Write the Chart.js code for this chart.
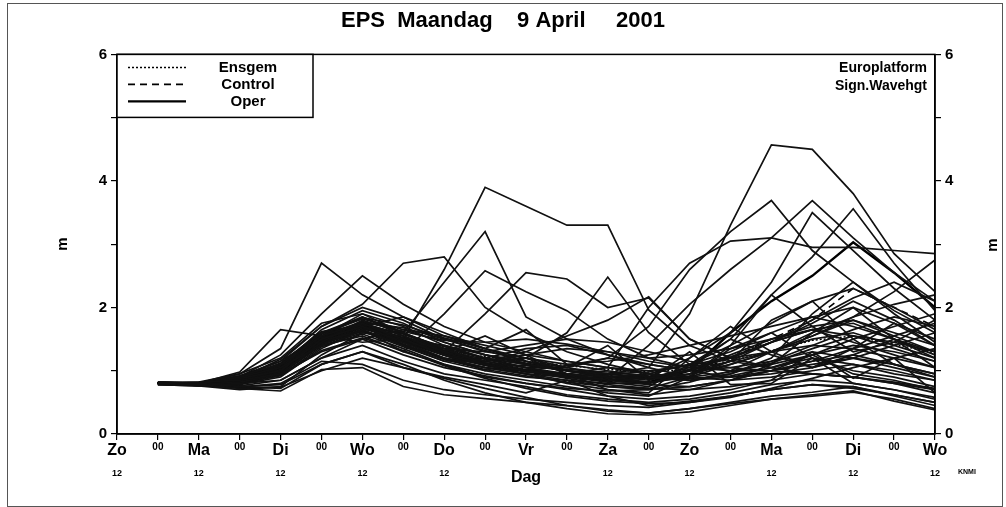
<!DOCTYPE html>
<html>
<head>
<meta charset="utf-8">
<title>EPS Maandag 9 April 2001</title>
<script src="https://cdn.jsdelivr.net/npm/chart.js@4.4.1/dist/chart.umd.min.js"></script>
<style>
  html, body { margin: 0; padding: 0; background: #fff; }
  #wrap { width: 1006px; height: 507px; }
</style>
</head>
<body>
<div id="wrap"><canvas id="myChart" width="1006" height="507"></canvas></div>
<script>
// time axis, every 12 hours from Zo 12 up to Wo 12 ten days later
var timeLabels = ['Zo 12', '00', 'Ma 12', '00', 'Di 12', '00', 'Wo 12', '00', 'Do 12', '00', 'Vr 12',
                  '00', 'Za 12', '00', 'Zo 12', '00', 'Ma 12', '00', 'Di 12', '00', 'Wo 12'];
var yTicks = [0, 2, 4, 6];

// ensemble members (significant wave height, m), first step has no value
var m01 = [null, .80, .78, .72, .68, 1.02, 1.05, .75, .62, .56, .50, .45, .38, .33, .40, .48, .55, .60, .66, .55, .40];
var m02 = [null, .82, .80, .75, .72, 1.10, 1.30, 1.05, .90, .78, .65, .85, .60, .45, .52, .60, .70, .78, .75, .62, .50];
var m03 = [null, .78, .76, .80, .85, 1.20, 1.40, 1.15, .95, .85, .75, .62, .55, .50, .55, .65, .78, .85, .80, .70, .58];
var m04 = [null, .80, .82, .85, .95, 1.30, 1.50, 1.25, 1.05, .92, .80, .70, .60, .55, .60, .70, .85, .95, .90, .80, .65];
var m05 = [null, .81, .79, .90, 1.05, 1.40, 1.55, 1.30, 1.10, .95, .85, .75, .65, .60, .90, 1.35, 1.60, 1.20, 1.00, .90, .75];
var m06 = [null, .79, .77, .78, .90, 1.35, 1.65, 1.40, 1.15, 1.00, 1.20, .95, .70, .62, .70, .85, 1.00, 1.25, .95, .85, .70];
var m07 = [null, .80, .80, .88, 1.00, 1.50, 1.70, 1.45, 1.20, 1.05, .95, .85, .75, .70, .75, .85, 1.10, 1.60, 2.00, 1.50, 1.05];
var m08 = [null, .82, .81, .92, 1.10, 1.55, 1.75, 1.50, 1.25, 1.10, 1.00, .90, .82, .75, 1.10, 1.50, 1.25, 1.05, 1.35, 1.75, 1.40];
var m09 = [null, .78, .76, .70, .75, 1.25, 1.60, 1.55, 1.30, 1.55, 1.25, .95, .85, .78, .75, .85, 1.00, 1.15, 1.25, 1.10, .95];
var m10 = [null, .80, .78, .82, .95, 1.45, 1.80, 1.60, 1.35, 1.10, .95, .80, .70, .65, 1.20, 1.70, 1.30, 1.05, 1.25, 1.50, 1.20];
var m11 = [null, .81, .80, .85, 1.05, 1.60, 1.85, 1.55, 1.25, 1.00, .90, .85, .80, .80, .95, 1.15, 1.80, 2.10, 1.50, 1.10, .90];
var m12 = [null, .79, .78, .80, .98, 1.55, 1.90, 1.70, 1.40, 1.20, 1.10, 1.00, .90, .82, .90, 1.40, 2.20, 1.70, 1.30, 1.45, 1.80];
var m13 = [null, .80, .79, .86, 1.08, 1.65, 1.95, 1.75, 1.45, 1.25, 1.15, 1.05, 1.40, .85, 1.00, 1.25, 1.50, 1.70, 1.80, 1.55, 1.30];
var m14 = [null, .82, .80, .90, 1.15, 1.70, 2.00, 1.80, 1.50, 1.30, 1.20, 1.10, 1.00, .90, .85, .95, 1.20, 1.90, 2.40, 1.90, 1.45];
var m15 = [null, .80, .78, .84, 1.02, 1.50, 1.70, 1.85, 1.60, 1.35, 1.15, 1.00, .95, .98, 1.10, 1.30, 1.60, 1.85, 2.00, 1.75, 1.50];
var m16 = [null, .79, .77, .76, .85, 1.20, 1.50, 1.65, 1.55, 1.40, 1.25, 1.15, 1.05, .95, .85, .95, 1.15, 1.40, 1.65, 1.85, 1.70];
var m17 = [null, .81, .80, .88, 1.12, 1.62, 1.72, 1.42, 1.18, 1.05, 1.00, 1.08, 1.20, 1.10, 1.00, .90, .95, 1.05, 1.20, 1.40, 1.60];
var m18 = [null, .80, .82, .95, 1.20, 1.75, 1.90, 1.60, 1.30, 1.15, 1.25, 1.35, 1.30, 1.15, 1.05, 1.20, 1.45, 1.75, 2.10, 1.80, 1.40];
var m19 = [null, .80, .79, .83, 1.00, 1.48, 1.62, 1.38, 1.15, 1.20, 1.35, 1.40, 1.25, 1.05, .90, .85, .90, 1.00, 1.10, 1.00, .85];
var m20 = [null, .78, .77, .80, .92, 1.38, 1.58, 1.35, 1.10, .90, .80, .72, .68, .70, .82, 1.00, 1.30, 1.60, 1.85, 2.05, 2.20];
var m21 = [null, .81, .80, .86, 1.04, 1.52, 1.68, 1.48, 1.28, 1.12, 1.00, .88, .78, .72, .70, .75, .85, 1.30, .88, 1.20, .65];
var m22 = [null, .80, .79, .82, .96, 1.42, 1.66, 1.52, 1.35, 1.30, 1.40, 1.50, 1.45, 1.30, 1.15, 1.05, 1.00, .95, .90, .82, .72];
var m23 = [null, .79, .78, .84, 1.00, 1.46, 1.74, 1.58, 1.32, 1.18, 1.05, .95, .90, .95, 1.10, 1.40, 1.75, 2.10, 2.30, 2.00, 1.65];
var m24 = [null, .80, .80, .90, 1.10, 1.58, 1.82, 1.65, 1.45, 1.25, 1.10, 1.00, .92, .85, 1.30, .78, .80, 1.20, .80, .70, .55];
var m25 = [null, .82, .81, .88, 1.06, 1.55, 1.78, 1.62, 1.48, 1.45, 1.50, 1.42, 1.30, 1.20, 1.25, 1.35, 1.50, 1.65, 1.55, 1.35, 1.15];
var m26 = [null, .80, .78, .79, .93, 1.32, 1.52, 1.32, 1.08, .88, .72, .60, .52, .48, .50, .58, .72, .88, 1.05, 1.20, 1.35];
var m27 = [null, .81, .79, .81, .97, 1.44, 1.70, 1.58, 1.38, 1.20, 1.05, .92, .85, .88, 1.02, 1.20, 1.45, 1.65, 1.45, 1.25, 1.05];
var m28 = [null, .80, .80, .85, 1.02, 1.50, 1.76, 1.68, 1.50, 1.32, 1.15, 1.00, .88, .80, .92, 1.15, 1.45, 1.80, 2.15, 2.40, 2.10];
var m29 = [null, .79, .77, .74, .80, 1.15, 1.10, .85, .70, .62, .55, .50, .45, .42, .50, .60, .70, .78, .72, .62, .50];
var m30 = [null, .80, .79, .87, 1.07, 1.58, 1.84, 1.72, 1.52, 1.35, 1.65, 1.10, 1.15, 1.25, 1.40, 1.55, 1.70, 1.85, 1.70, 1.50, 1.30];
var m31 = [null, .81, .80, .83, .99, 1.47, 1.64, 1.40, 1.20, 1.10, 1.08, 1.00, .92, .88, .85, .90, 1.00, 1.15, 1.35, 1.55, 1.75];
var m32 = [null, .80, .78, .81, .95, 1.40, 1.60, 1.50, 1.40, 1.25, 1.12, 1.02, .98, .92, .88, .92, 1.05, 1.25, 1.50, 1.70, 1.90];
var m33 = [null, .80, .78, .75, .78, 1.10, 1.30, 1.10, .85, .65, .50, .40, .32, .30, .35, .45, .55, .62, .68, .52, .38];
var m34 = [null, .79, .77, .73, .74, 1.00, 1.20, 1.05, .88, .72, .58, .45, .36, .33, .40, .50, .60, .66, .75, .60, .45];
// members that stand out above the plume
var m35 = [null, .80, .80, .92, 1.15, 1.55, 1.45, 1.50, 2.60, 3.90, 3.60, 3.30, 3.30, 1.96, 1.40, 1.15, 1.05, 1.20, 1.10, .95, .85];
var m36 = [null, .81, .79, .86, 1.10, 1.60, 1.70, 1.60, 2.40, 3.20, 1.85, 1.50, 1.25, 1.10, 1.00, 1.05, 1.15, 1.30, 1.20, 1.05, .90];
var m37 = [null, .80, .81, .88, 1.05, 1.50, 1.75, 1.45, 1.30, 1.90, 2.55, 2.45, 2.00, 2.15, 1.50, 1.20, 1.05, .95, .90, .80, .70];
var m38 = [null, .80, .78, .85, 1.02, 1.45, 1.65, 1.30, 1.90, 2.58, 2.25, 1.95, 1.50, 1.20, 1.05, 1.00, 1.10, 1.25, 1.40, 1.30, 1.15];
var m39 = [null, .81, .80, .95, 1.35, 2.70, 2.20, 1.85, 1.55, 1.35, 1.20, 1.05, .95, .88, .95, 1.10, 1.30, 1.50, 1.60, 1.40, 1.20];
var m40 = [null, .80, .79, .90, 1.25, 1.90, 2.50, 2.05, 1.70, 1.45, 1.30, 1.15, 1.05, 1.00, 1.08, 1.22, 1.45, 1.65, 1.75, 1.50, 1.25];
var m41 = [null, .80, .80, .88, 1.18, 1.70, 2.05, 2.70, 2.80, 2.00, 1.60, 1.30, 1.10, .95, .90, .98, 1.12, 1.35, 1.55, 1.45, 1.30];
var m42 = [null, .80, .80, .98, 1.65, 1.55, 1.85, 1.60, 1.35, 1.20, 1.10, 1.00, .95, .90, 1.00, 1.15, 1.30, 1.40, 1.35, 1.20, 1.05];
var m43 = [null, .80, .79, .84, 1.00, 1.48, 1.72, 1.50, 1.30, 1.15, 1.20, 1.60, 2.48, 1.60, 1.10, 1.00, 1.00, 1.10, 1.20, 1.10, .95];
var m44 = [null, .81, .80, .86, 1.04, 1.50, 1.70, 1.48, 1.25, 1.15, 1.30, 1.55, 1.80, 2.17, 1.50, 1.20, 1.30, 1.55, 1.80, 1.60, 1.40];
var m45 = [null, .80, .80, .85, 1.00, 1.45, 1.68, 1.45, 1.20, 1.05, .95, .90, .95, 1.05, 1.90, 3.30, 4.57, 4.50, 3.80, 2.85, 2.25];
var m46 = [null, .80, .78, .84, 1.02, 1.48, 1.70, 1.50, 1.30, 1.15, 1.05, 1.05, 1.20, 1.70, 2.60, 3.20, 3.69, 2.90, 2.40, 1.95, 1.60];
var m47 = [null, .80, .79, .83, .98, 1.42, 1.62, 1.45, 1.25, 1.10, 1.00, .95, 1.05, 2.00, 2.70, 3.05, 3.10, 2.95, 2.95, 2.90, 2.85];
var m48 = [null, .81, .80, .86, 1.06, 1.52, 1.74, 1.52, 1.28, 1.12, 1.00, .92, .88, 1.40, 2.05, 2.60, 3.10, 3.69, 3.10, 2.55, 2.10];
var m49 = [null, .80, .79, .85, 1.03, 1.49, 1.69, 1.46, 1.24, 1.08, .98, .90, .85, .90, 1.20, 1.60, 2.40, 3.50, 2.90, 2.30, 1.80];
var m50 = [null, .80, .80, .87, 1.05, 1.53, 1.76, 1.55, 1.32, 1.15, 1.02, .95, .90, .88, 1.05, 1.50, 2.20, 2.80, 3.56, 2.70, 1.95];
var m51 = [null, .80, .78, .82, .97, 1.43, 1.64, 1.42, 1.18, 1.02, .92, .82, .75, .72, .90, 1.10, 1.30, 1.55, 1.85, 2.25, 2.75];

var members = [m01, m02, m03, m04, m05, m06, m07, m08, m09, m10, m11, m12, m13, m14, m15, m16, m17,
               m18, m19, m20, m21, m22, m23, m24, m25, m26, m27, m28, m29, m30, m31, m32, m33, m34,
               m35, m36, m37, m38, m39, m40, m41, m42, m43, m44, m45, m46, m47, m48, m49, m50, m51];

var ensgem  = [null, .80, .79, .85, 1.02, 1.48, 1.72, 1.52, 1.32, 1.22, 1.15, 1.08, 1.02, .98, 1.02, 1.15, 1.32, 1.48, 1.55, 1.42, 1.28];
var control = [null, .80, .80, .85, 1.02, 1.48, 1.70, 1.48, 1.25, 1.10, .98, .90, .84, .80, .95, 1.20, 1.50, 1.80, 2.30, 2.00, 1.70];
var oper    = [null, .80, .80, .86, 1.03, 1.50, 1.72, 1.50, 1.28, 1.12, 1.00, .92, .85, .82, 1.00, 1.60, 2.10, 2.50, 3.03, 2.55, 2.00];

var legendNames = ['Ensgem', 'Control', 'Oper'];

Chart.defaults.font.family = "'Liberation Sans', Arial, sans-serif";
Chart.defaults.color = '#000';

var datasets = members.map(function(d, i) {
    return {
        label: 'Lid ' + (i + 1),
        data: d,
        borderColor: '#111',
        borderWidth: 1.7,
        pointRadius: 0,
        fill: false,
        tension: 0
    };
});
datasets.push({ label: 'Ensgem', data: ensgem, borderColor: '#000', borderWidth: 1.5, borderDash: [2, 2], pointRadius: 0, tension: 0 });
datasets.push({ label: 'Control', data: control, borderColor: '#000', borderWidth: 1.6, borderDash: [7, 5], pointRadius: 0, tension: 0 });
datasets.push({ label: 'Oper', data: oper, borderColor: '#000', borderWidth: 2.4, pointRadius: 0, tension: 0 });

var decorations = {
    id: 'decorations',
    beforeDraw: function(chart) {
        var ctx = chart.ctx;
        ctx.save();
        ctx.fillStyle = '#fff';
        ctx.fillRect(0, 0, chart.width, chart.height);
        ctx.strokeStyle = '#555';
        ctx.lineWidth = 1;
        ctx.strokeRect(7.5, 3.5, 995, 503);
        ctx.restore();
    },
    afterDraw: function(chart) {
        var ctx = chart.ctx, a = chart.chartArea;
        ctx.save();
        ctx.strokeStyle = '#000';
        ctx.lineWidth = 1.5;
        ctx.strokeRect(a.left, a.top, a.right - a.left, a.bottom - a.top);

        // legend box in the upper left corner of the plot
        ctx.fillStyle = '#fff';
        ctx.fillRect(a.left, a.top, 196, 63);
        ctx.strokeRect(a.left, a.top, 196, 63);
        ctx.fillStyle = '#000';
        ctx.font = "bold 15px 'Liberation Sans', Arial, sans-serif";
        ctx.textAlign = 'center';
        ctx.textBaseline = 'middle';
        legendNames.forEach(function(name, k) {
            var ds = chart.data.datasets.find(function(d) { return d.label === name; });
            var y = a.top + 13 + k * 17;
            ctx.save();
            ctx.lineWidth = ds.borderWidth;
            ctx.setLineDash(ds.borderDash || []);
            ctx.beginPath();
            ctx.moveTo(a.left + 11, y);
            ctx.lineTo(a.left + 69, y);
            ctx.stroke();
            ctx.restore();
            ctx.fillText(name, a.left + 131, y);
        });

        ctx.font = "bold 14px 'Liberation Sans', Arial, sans-serif";
        ctx.textAlign = 'right';
        ctx.fillText('Europlatform', a.right - 8, 68);
        ctx.fillText('Sign.Wavehgt', a.right - 8, 86);

        ctx.font = "bold 7px 'Liberation Sans', Arial, sans-serif";
        ctx.textAlign = 'left';
        ctx.fillText('KNMI', 958, 472);

        // right axis unit, same orientation as the left one
        ctx.font = "bold 15px 'Liberation Sans', Arial, sans-serif";
        ctx.translate(993, 245);
        ctx.rotate(-Math.PI / 2);
        ctx.textAlign = 'center';
        ctx.fillText('m', 0, 0);
        ctx.restore();
    }
};

function yTickLabel(v) {
    return yTicks.indexOf(v) >= 0 ? v : '';
}

var ctx1 = document.getElementById('myChart').getContext('2d');
var myChart1 = new Chart(ctx1, {
    type: 'line',
    data: {
        labels: timeLabels,
        datasets: datasets
    },
    options: {
        responsive: false,
        animation: false,
        events: [],
        layout: { padding: 0 },
        plugins: {
            title: {
                display: true,
                text: 'EPS  Maandag    9 April     2001',
                font: { size: 22, weight: 'bold' },
                color: '#000',
                padding: { top: 8, bottom: 20 }
            },
            legend: { display: false },
            tooltip: { enabled: false }
        },
        scales: {
            x: {
                type: 'category',
                position: 'bottom',
                weight: 0,
                grid: { display: true, drawOnChartArea: false, tickLength: 6, color: '#000', lineWidth: 1.2 },
                border: { display: true, color: '#000', width: 1.5 },
                ticks: {
                    autoSkip: false,
                    maxRotation: 0,
                    padding: 1,
                    color: '#000',
                    font: function(c) {
                        return c.index % 2 ? { size: 10, weight: 'bold' } : { size: 16, weight: 'bold' };
                    },
                    callback: function(v) { return this.getLabelForValue(v).split(' ')[0]; }
                },
                afterFit: function(s) { s.height = 22; }
            },
            x2: {
                type: 'category',
                position: 'bottom',
                weight: 1,
                labels: timeLabels,
                grid: { display: false },
                border: { display: false },
                ticks: {
                    autoSkip: false,
                    maxRotation: 0,
                    padding: 4,
                    color: '#000',
                    font: function(c) {
                        return c.index === 10 ? { size: 16, weight: 'bold' } : { size: 9, weight: 'bold' };
                    },
                    callback: function(v, i) {
                        if (i === 10) return 'Dag';
                        return this.getLabelForValue(v).split(' ')[1] || '';
                    }
                },
                afterFit: function(s) { s.height = 51; }
            },
            y: {
                position: 'left',
                min: 0,
                max: 6,
                grid: { drawOnChartArea: false, tickLength: 6, color: '#000', lineWidth: 1.2 },
                border: { color: '#000', width: 1.5 },
                ticks: { stepSize: 1, padding: 4, color: '#000', font: { size: 15, weight: 'bold' }, callback: yTickLabel },
                title: { display: true, text: 'm', color: '#000', font: { size: 15, weight: 'bold' }, padding: { top: 54 } },
                afterFit: function(s) { s.width = 117; }
            },
            y2: {
                position: 'right',
                min: 0,
                max: 6,
                grid: { drawOnChartArea: false, tickLength: 6, color: '#000', lineWidth: 1.2 },
                border: { color: '#000', width: 1.5 },
                ticks: { stepSize: 1, padding: 4, color: '#000', font: { size: 15, weight: 'bold' }, callback: yTickLabel },
                afterFit: function(s) { s.width = 71; }
            }
        }
    },
    plugins: [decorations]
});
</script>
</body>
</html>
